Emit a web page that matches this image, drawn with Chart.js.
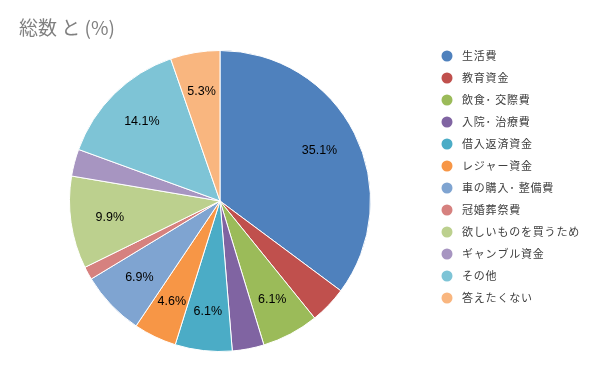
<!DOCTYPE html>
<html>
<head>
<meta charset="utf-8">
<script src="https://cdn.jsdelivr.net/npm/chart.js@4"></script>
<style>
  html, body { margin: 0; padding: 0; background: #fff; }
  #wrap { width: 600px; height: 371px; position: relative; }
</style>
</head>
<body>
<div id="wrap"><canvas id="pie"></canvas></div>
<script>
const titleText = '総数 と (%)';
const categories = ['生活費', '教育資金', '飲食・交際費', '入院・治療費', '借入返済資金', 'レジャー資金',
  '車の購入・整備費', '冠婚葬祭費', '欲しいものを買うため', 'ギャンブル資金', 'その他', '答えたくない'];
const legendNames = ['生活費', '教育資金', '飲食･ 交際費', '入院･ 治療費', '借入返済資金', 'レジャー資金',
  '車の購入･ 整備費', '冠婚葬祭費', '欲しいものを買うため', 'ギャンブル資金', 'その他', '答えたくない'];
const shares = [35.1, 4.0, 6.1, 3.4, 6.1, 4.6, 6.9, 1.4, 9.9, 2.9, 14.1, 5.3];
const colors = ['#4F81BD', '#C0504D', '#9BBB59', '#8064A2', '#4BACC6', '#F79646',
  '#7FA4D1', '#D6817F', '#BCD08E', '#A795C1', '#7EC4D6', '#F9B67F'];

// only the bigger slices carry a label in the original
const labelMin = 4.5;

const extras = {
  id: 'extras',
  afterDraw(chart) {
    const ctx = chart.ctx;
    ctx.save();
    // title
    ctx.fillStyle = '#808080';
    ctx.font = '19px "Noto Sans CJK JP", sans-serif';
    ctx.textBaseline = 'middle';
    ctx.textAlign = 'left';
    ctx.fillText(titleText, 19, 28);

    // slice labels
    const meta = chart.getDatasetMeta(0);
    ctx.fillStyle = '#000';
    ctx.font = '12.5px "Liberation Sans", sans-serif';
    ctx.textAlign = 'center';
    meta.data.forEach((arc, i) => {
      if (shares[i] < labelMin) return;
      const mid = (arc.startAngle + arc.endAngle) / 2;
      const r = arc.outerRadius * 0.74;
      ctx.fillText(shares[i].toFixed(1) + '%', arc.x + Math.cos(mid) * r, arc.y + Math.sin(mid) * r);
    });

    // legend
    ctx.textAlign = 'left';
    ctx.font = '11px "Noto Sans CJK JP", sans-serif';
    ctx.letterSpacing = '0.8px';
    legendNames.forEach((name, i) => {
      const y = 56 + i * 22;
      ctx.beginPath();
      ctx.arc(447, y, 5.5, 0, Math.PI * 2);
      ctx.fillStyle = colors[i];
      ctx.fill();
      ctx.fillStyle = '#404040';
      ctx.fillText(name, 462, y);
    });
    ctx.restore();
  }
};

new Chart(document.getElementById('pie'), {
  type: 'pie',
  data: {
    labels: categories,
    datasets: [{
      data: shares,
      backgroundColor: colors,
      borderColor: '#ffffff',
      borderWidth: 1
    }]
  },
  options: {
    responsive: true,
    maintainAspectRatio: false,
    animation: false,
    layout: { padding: { left: 69, right: 229, top: 50, bottom: 19 } },
    plugins: {
      legend: { display: false },
      tooltip: { enabled: false }
    }
  },
  plugins: [extras]
});
</script>
</body>
</html>
